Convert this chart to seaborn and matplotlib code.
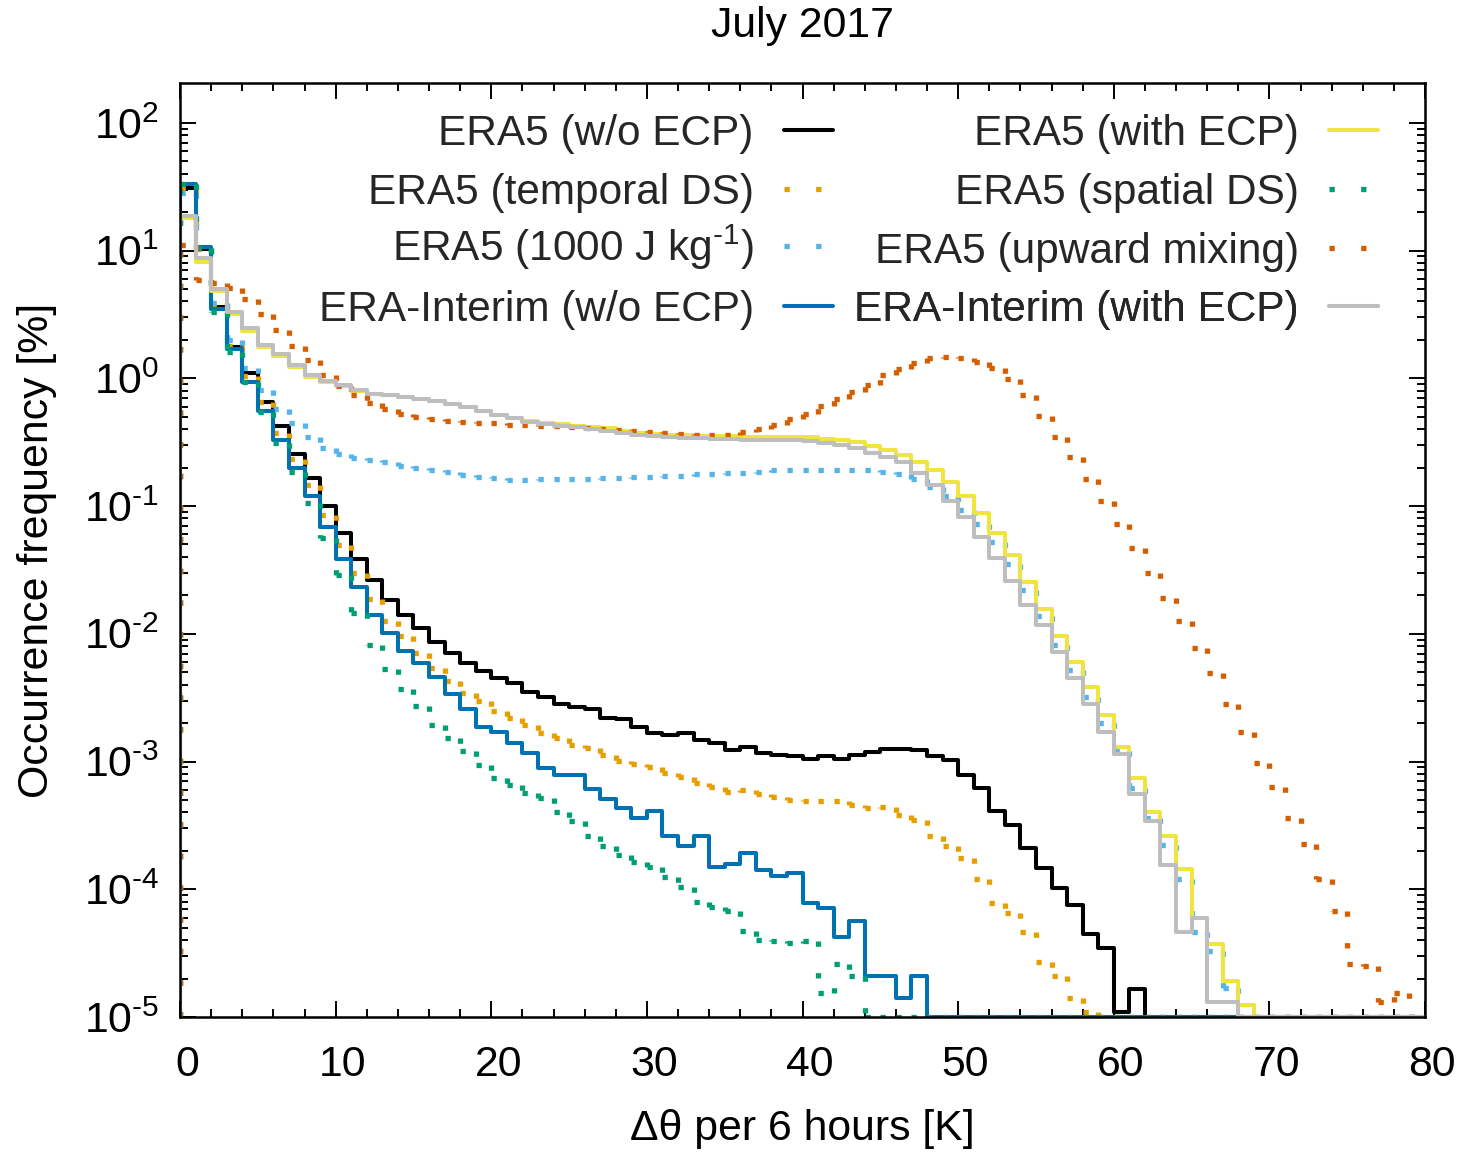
import numpy as np
import pandas as pd
import matplotlib
matplotlib.use("Agg")
import matplotlib.pyplot as plt
import seaborn as sns
from matplotlib.lines import Line2D
from matplotlib.transforms import ScaledTranslation
from matplotlib.ticker import FixedLocator, NullFormatter, FuncFormatter

sns.set_theme(style="ticks")
plt.rcParams["font.family"] = ["Liberation Sans", "DejaVu Sans"]
plt.rcParams["mathtext.fontset"] = "custom"
plt.rcParams["mathtext.rm"] = "Liberation Sans"
plt.rcParams["mathtext.default"] = "regular"
plt.rcParams["axes.unicode_minus"] = False

# ---- data: occurrence frequency [%] per 1 K bin (0-1, 1-2, ..., 79-80) ----
bin_edges = list(range(0, 81))
floor_value = 1e-5
x_major_ticks = [0, 10, 20, 30, 40, 50, 60, 70, 80]
y_decades = [-5, -4, -3, -2, -1, 0, 1, 2]

era5_noecp = [31, 10.3, 3.6, 1.76, 1.1, 0.65, 0.42, 0.256, 0.166, 0.100,
              0.062, 0.0385, 0.0264, 0.0184, 0.014, 0.0111, 0.0086, 0.0071, 0.0059, 0.0051,
              0.0045, 0.0041, 0.0035, 0.0032, 0.0028, 0.00267, 0.0026, 0.0022, 0.00215, 0.00186,
              0.00167, 0.00162, 0.00167, 0.00148, 0.0014, 0.00124, 0.00129, 0.00116, 0.00112, 0.0011,
              0.00104, 0.0011, 0.00104, 0.00112, 0.00119, 0.00125, 0.00125, 0.00122, 0.0011, 0.00103,
              0.00078, 0.00062, 0.00041, 0.00032, 0.00021, 0.000147, 0.000102, 7.5e-5, 4.5e-5, 3.5e-5,
              1.1e-5, 1.65e-5, 1e-5, 1e-5, 1e-5, 1e-5, 1e-5, 1e-5, 1e-5, 1e-5,
              1e-5, 1e-5, 1e-5, 1e-5, 1e-5, 1e-5, 1e-5, 1e-5, 1e-5, 1e-5]

era5_temporal_ds = [31, 10.3, 3.7, 1.8, 1.05, 0.65, 0.37, 0.234, 0.146, 0.085,
                    0.0495, 0.030, 0.0188, 0.0126, 0.0096, 0.0071, 0.0054, 0.0043, 0.00344, 0.0030,
                    0.0025, 0.0022, 0.00193, 0.00168, 0.00153, 0.00135, 0.00128, 0.00112, 0.00101, 0.00095,
                    0.00091, 0.00081, 0.00076, 0.00068, 0.00063, 0.00058, 0.0006, 0.00056, 0.00053, 0.0005,
                    0.00049, 0.00049, 0.00049, 0.00046, 0.00043, 0.00044, 0.00038, 0.00035, 0.00026, 0.00022,
                    0.000176, 0.00012, 7.8e-5, 6.5e-5, 4.6e-5, 2.7e-5, 2.1e-5, 1.4e-5, 1.1e-5, 1e-5,
                    1e-5, 1e-5, 1e-5, 1e-5, 1e-5, 1e-5, 1e-5, 1e-5, 1e-5, 1e-5,
                    1e-5, 1e-5, 1e-5, 1e-5, 1e-5, 1e-5, 1e-5, 1e-5, 1e-5, 1e-5]

era5_1000jkg = [28, 10.5, 3.9, 2.0, 1.2, 0.81, 0.58, 0.445, 0.346, 0.285,
                0.255, 0.237, 0.23, 0.22, 0.207, 0.2, 0.193, 0.185, 0.176, 0.17,
                0.165, 0.16, 0.16, 0.162, 0.162, 0.162, 0.164, 0.167, 0.167, 0.17,
                0.17, 0.173, 0.173, 0.177, 0.177, 0.18, 0.182, 0.186, 0.19, 0.19,
                0.19, 0.19, 0.193, 0.193, 0.19, 0.185, 0.177, 0.163, 0.14, 0.12,
                0.093, 0.072, 0.052, 0.035, 0.022, 0.0137, 0.0082, 0.0052, 0.0032, 0.002,
                0.0012, 0.00062, 0.00036, 0.000224, 0.000121, 4.6e-5, 3.3e-5, 1.7e-5, 1e-5, 1e-5,
                1e-5, 1e-5, 1e-5, 1e-5, 1e-5, 1e-5, 1e-5, 1e-5, 1e-5, 1e-5]

erai_noecp = [33, 10.7, 3.5, 1.7, 0.94, 0.55, 0.33, 0.20, 0.12, 0.069,
              0.0385, 0.0233, 0.014, 0.0102, 0.0073, 0.0059, 0.0046, 0.0034, 0.0026, 0.00186,
              0.0017, 0.0014, 0.00117, 0.00089, 0.00078, 0.00078, 0.00061, 0.00051, 0.00043, 0.00036,
              0.00041, 0.00026, 0.00022, 0.00026, 0.00015, 0.000158, 0.000192, 0.000141, 0.000127, 0.000134,
              7.8e-5, 7.1e-5, 4.2e-5, 5.6e-5, 2.1e-5, 2.1e-5, 1.4e-5, 2.1e-5, 1e-5, 1e-5,
              1e-5, 1e-5, 1e-5, 1e-5, 1e-5, 1e-5, 1e-5, 1e-5, 1e-5, 1e-5,
              1e-5, 1e-5, 1e-5, 1e-5, 1e-5, 1e-5, 1e-5, 1e-5, 1e-5, 1e-5,
              1e-5, 1e-5, 1e-5, 1e-5, 1e-5, 1e-5, 1e-5, 1e-5, 1e-5, 1e-5]

era5_withecp = [18, 8.2, 4.8, 3.2, 2.35, 1.75, 1.5, 1.22, 1.03, 0.93,
                0.87, 0.80, 0.76, 0.74, 0.72, 0.69, 0.665, 0.627, 0.60, 0.555,
                0.52, 0.49, 0.465, 0.45, 0.44, 0.427, 0.415, 0.405, 0.385, 0.372,
                0.366, 0.362, 0.36, 0.356, 0.353, 0.355, 0.35, 0.35, 0.35, 0.345,
                0.345, 0.335, 0.33, 0.32, 0.295, 0.275, 0.25, 0.22, 0.19, 0.155,
                0.12, 0.089, 0.062, 0.0415, 0.0255, 0.0157, 0.0096, 0.006, 0.0038, 0.0023,
                0.0013, 0.00074, 0.0004, 0.00026, 0.000145, 6e-5, 3.7e-5, 1.9e-5, 1.25e-5, 1e-5,
                1e-5, 1e-5, 1e-5, 1e-5, 1e-5, 1e-5, 1e-5, 1e-5, 1e-5, 1e-5]

era5_spatial_ds = [33, 10.5, 3.3, 1.6, 0.94, 0.54, 0.31, 0.185, 0.106, 0.056,
                   0.029, 0.0146, 0.0081, 0.0053, 0.0037, 0.0027, 0.00193, 0.00153, 0.00121, 0.00094,
                   0.00074, 0.00066, 0.00057, 0.00052, 0.0004, 0.00034, 0.00026, 0.00022, 0.000185, 0.000163,
                   0.000149, 0.000125, 0.000105, 7.9e-5, 7.3e-5, 6.7e-5, 4.7e-5, 4.0e-5, 3.9e-5, 3.8e-5,
                   3.9e-5, 1.55e-5, 2.6e-5, 2.1e-5, 1e-5, 1e-5, 1e-5, 1e-5, 1e-5, 1e-5,
                   1e-5, 1e-5, 1e-5, 1e-5, 1e-5, 1e-5, 1e-5, 1e-5, 1e-5, 1e-5,
                   1e-5, 1e-5, 1e-5, 1e-5, 1e-5, 1e-5, 1e-5, 1e-5, 1e-5, 1e-5,
                   1e-5, 1e-5, 1e-5, 1e-5, 1e-5, 1e-5, 1e-5, 1e-5, 1e-5, 1e-5]

era5_upward_mixing = [11, 5.9, 5.6, 5.1, 4.2, 3.2, 2.4, 1.8, 1.4, 1.06,
                      0.87, 0.735, 0.646, 0.58, 0.526, 0.50, 0.484, 0.467, 0.458, 0.45,
                      0.443, 0.43, 0.43, 0.427, 0.425, 0.414, 0.41, 0.40, 0.395, 0.387,
                      0.378, 0.37, 0.365, 0.363, 0.363, 0.36, 0.38, 0.40, 0.43, 0.48,
                      0.53, 0.61, 0.69, 0.78, 0.89, 1.06, 1.19, 1.32, 1.45, 1.47,
                      1.44, 1.34, 1.2, 0.99, 0.74, 0.51, 0.35, 0.24, 0.163, 0.109,
                      0.072, 0.047, 0.030, 0.019, 0.0126, 0.0078, 0.0049, 0.0028, 0.0017, 0.00098,
                      0.00063, 0.00036, 0.000226, 0.00012, 6.7e-5, 2.6e-5, 2.5e-5, 1.3e-5, 1.55e-5, 1e-5]

erai_withecp = [18.7, 8.7, 5.0, 3.3, 2.46, 1.83, 1.55, 1.27, 1.06, 0.95,
                0.88, 0.81, 0.76, 0.74, 0.72, 0.69, 0.665, 0.627, 0.60, 0.55,
                0.516, 0.486, 0.458, 0.44, 0.427, 0.414, 0.40, 0.39, 0.37, 0.358,
                0.352, 0.348, 0.344, 0.34, 0.335, 0.333, 0.33, 0.33, 0.33, 0.33,
                0.325, 0.31, 0.30, 0.285, 0.26, 0.243, 0.22, 0.18, 0.147, 0.11,
                0.082, 0.057, 0.039, 0.026, 0.0168, 0.0117, 0.0072, 0.0045, 0.0028, 0.0017,
                0.00115, 0.00056, 0.00034, 0.000156, 4.6e-5, 6e-5, 1.3e-5, 1.3e-5, 1e-5, 1e-5,
                1e-5, 1e-5, 1e-5, 1e-5, 1e-5, 1e-5, 1e-5, 1e-5, 1e-5, 1e-5]

labels = ["ERA5 (w/o ECP)", "ERA5 (temporal DS)", "ERA5 (1000 J kg$^{\\text{-1}}$)",
          "ERA-Interim (w/o ECP)", "ERA5 (with ECP)", "ERA5 (spatial DS)",
          "ERA5 (upward mixing)", "ERA-Interim (with ECP)"]
values_list = [era5_noecp, era5_temporal_ds, era5_1000jkg, erai_noecp,
               era5_withecp, era5_spatial_ds, era5_upward_mixing, erai_withecp]
colors = ["#000000", "#E69F00", "#56B4E9", "#0072B2",
          "#F0E442", "#009E73", "#D55E00", "#BEBEBE"]
dotted = [False, True, True, False, False, True, True, False]

SOLID_LW = 2.9
DOT_LW = 3.8
DOT_STYLE = (0, (1, 5.0))
FS = 30.8
LEG_FS = 30.5


def step_segments(vals):
    """Each step edge as its own segment (dash pattern restarts per segment)."""
    rows = []
    seg = 0
    rows += [(bin_edges[0], floor_value, seg), (bin_edges[0], vals[0], seg)]
    seg += 1
    for k, v in enumerate(vals):
        rows += [(bin_edges[k], v, seg), (bin_edges[k + 1], v, seg)]
        seg += 1
        if k + 1 < len(vals):
            rows += [(bin_edges[k + 1], v, seg), (bin_edges[k + 1], vals[k + 1], seg)]
            seg += 1
    return pd.DataFrame(rows, columns=["x", "y", "seg"])


def step_path(vals):
    xs = [bin_edges[0]]
    ys = [floor_value]
    for k, v in enumerate(vals):
        xs += [bin_edges[k], bin_edges[k + 1]]
        ys += [v, v]
    return pd.DataFrame({"x": xs, "y": ys})


fig = plt.figure(figsize=(14.58, 11.55), dpi=100)
ax = fig.add_axes([180 / 1458, 1 - 1017 / 1155, 1245 / 1458, 934 / 1155])
ax.set_yscale("log")

handles = []
for lab, vals, col, dot in zip(labels, values_list, colors, dotted):
    if dot:
        df = step_segments(vals)
        sns.lineplot(data=df, x="x", y="y", units="seg", estimator=None, sort=False,
                     color=col, linewidth=DOT_LW, linestyle=DOT_STYLE,
                     legend=False, ax=ax)
        handles.append(Line2D([], [], color=col, linewidth=DOT_LW, linestyle=DOT_STYLE))
    else:
        df = step_path(vals)
        sns.lineplot(data=df, x="x", y="y", estimator=None, sort=False,
                     color=col, linewidth=SOLID_LW, legend=False, ax=ax)
        handles.append(Line2D([], [], color=col, linewidth=SOLID_LW))

ax.set_xlim(0, 80)
ax.set_ylim(1e-5, 2.05e2)

y_major = [10.0 ** d for d in y_decades]
y_minor = [m * 10.0 ** d for d in y_decades for m in range(2, 10) if m * 10.0 ** d < 2.0e2]
ax.xaxis.set_major_locator(FixedLocator(x_major_ticks))
ax.xaxis.set_minor_locator(FixedLocator(list(range(0, 81, 2))))
ax.yaxis.set_major_locator(FixedLocator(y_major))
ax.yaxis.set_minor_locator(FixedLocator(y_minor))
ax.xaxis.set_minor_formatter(NullFormatter())
ax.yaxis.set_major_formatter(FuncFormatter(
    lambda v, p: "$10^{\\text{%d}}$" % int(round(np.log10(v)))))
ax.yaxis.set_minor_formatter(NullFormatter())

ax.tick_params(which="both", direction="in", top=True, right=True,
               width=1.4, color="black", labelcolor="black", labelsize=FS)
ax.tick_params(which="major", length=11.5)
ax.tick_params(which="minor", length=5.8)
ax.tick_params(axis="x", pad=20.5)
ax.tick_params(axis="y", pad=15)

shift = ScaledTranslation(7 / 100, 0, fig.dpi_scale_trans)
for lab in ax.get_xticklabels():
    lab.set_transform(lab.get_transform() + shift)

for sp in ax.spines.values():
    sp.set_color("black")
    sp.set_linewidth(1.8)
    sp.set_visible(True)

ax.set_xlabel("Δθ per 6 hours [K]", fontsize=FS, color="black", labelpad=17)
ax.set_ylabel("Occurrence frequency [%]", fontsize=FS, color="black", labelpad=19)
ax.set_title("July 2017", fontsize=FS, color="black", pad=33)

# legend: one entry per box so that rows line up across the two columns
col_right = [(833 - 180) / 1245, (1378 - 180) / 1245]
row_bottom_px = [154, 213, 272, 330]
for i, (h, lab) in enumerate(zip(handles, labels)):
    c, r = divmod(i, 4)
    yb = 1 - (row_bottom_px[r] - 83) / 934
    leg = ax.legend([h], [lab], loc="lower right", bbox_to_anchor=(col_right[c], yb),
                    markerfirst=False, frameon=False, fontsize=LEG_FS,
                    handlelength=1.15, handletextpad=0.72,
                    borderaxespad=0, borderpad=0)
    ax.add_artist(leg)

fig.savefig("out.png", dpi=100)
